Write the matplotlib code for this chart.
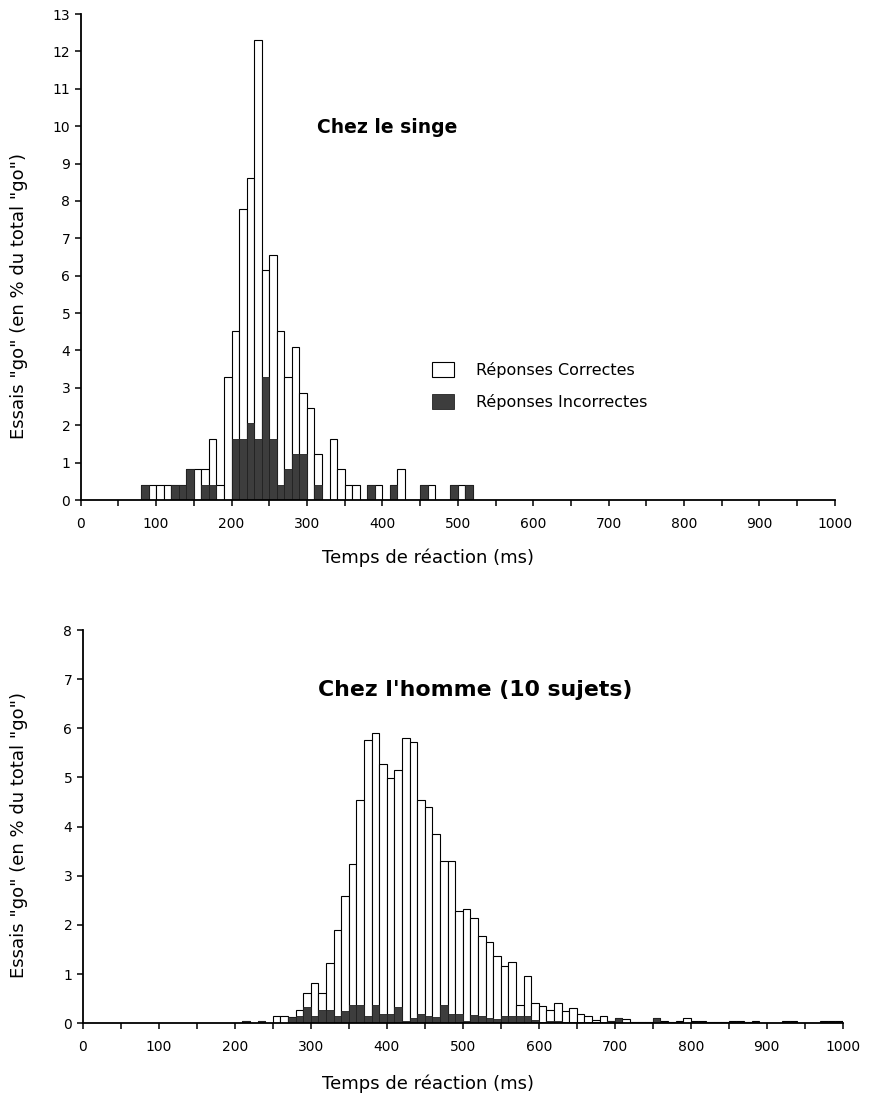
import matplotlib
matplotlib.use("Agg")
import matplotlib.pyplot as plt
from matplotlib.patches import Patch
from matplotlib.ticker import MultipleLocator

plt.rcParams['font.family'] = ['DejaVu Sans']

# --- data: monkey (bins of 10 ms, start of bin) ---
singe_bins = [80, 90, 100, 110, 120, 130, 140, 150, 160, 170, 180, 190,
              200, 210, 220, 230, 240, 250, 260, 270, 280, 290, 300, 310,
              320, 330, 340, 350, 360, 370, 380, 390, 400, 410, 420, 430,
              440, 450, 460, 470, 480, 490, 500, 510]
singe_total = [0.41, 0.41, 0.41, 0.41, 0.41, 0.41, 0.82, 0.82, 0.82, 1.64, 0.41, 3.28,
               4.51, 7.79, 8.61, 12.30, 6.15, 6.56, 4.51, 3.28, 4.10, 2.87, 2.46, 1.23,
               0, 1.64, 0.82, 0.41, 0.41, 0, 0.41, 0.41, 0, 0.41, 0.82, 0,
               0, 0.41, 0.41, 0, 0, 0.41, 0.41, 0.41]
singe_incorrect = [0.41, 0, 0, 0, 0.41, 0.41, 0.82, 0, 0.41, 0.41, 0, 0,
                   1.64, 1.64, 2.05, 1.64, 3.28, 1.64, 0.41, 0.82, 1.23, 1.23, 0, 0.41,
                   0, 0, 0, 0, 0, 0, 0.41, 0, 0, 0.41, 0, 0,
                   0, 0.41, 0, 0, 0, 0.41, 0, 0.41]

# --- data: human, 10 subjects ---
homme_bins = [210, 230, 250, 260, 270, 280, 290, 300, 310, 320, 330, 340,
              350, 360, 370, 380, 390, 400, 410, 420, 430, 440, 450, 460,
              470, 480, 490, 500, 510, 520, 530, 540, 550, 560, 570, 580,
              590, 600, 610, 620, 630, 640, 650, 660, 670, 680, 690, 700,
              710, 720, 730, 740, 750, 760, 770, 780, 790, 800, 810, 820,
              830, 840, 850, 860, 870, 880, 890, 900, 910, 920, 930, 940,
              950, 960, 970, 980, 990]
homme_total = [0.04, 0.04, 0.15, 0.15, 0.13, 0.27, 0.62, 0.81, 0.62, 1.22, 1.90, 2.59,
               3.25, 4.54, 5.76, 5.91, 5.27, 4.98, 5.15, 5.81, 5.72, 4.54, 4.39, 3.85,
               3.30, 3.30, 2.28, 2.32, 2.15, 1.78, 1.65, 1.36, 1.17, 1.24, 0.37, 0.96,
               0.42, 0.36, 0.27, 0.42, 0.26, 0.32, 0.19, 0.14, 0.06, 0.14, 0.04, 0.10,
               0.08, 0.03, 0.03, 0.03, 0.10, 0.05, 0.02, 0.05, 0.10, 0.04, 0.04, 0.03,
               0.02, 0.02, 0.05, 0.05, 0.02, 0.05, 0.01, 0.01, 0.01, 0.05, 0.05, 0.01,
               0.01, 0.01, 0.05, 0.05, 0.04]
homme_incorrect = [0.04, 0.04, 0, 0, 0.13, 0.15, 0.33, 0.15, 0.27, 0.27, 0.15, 0.24,
                   0.37, 0.37, 0.15, 0.37, 0.19, 0.19, 0.33, 0.05, 0.10, 0.19, 0.15, 0.13,
                   0.37, 0.19, 0.19, 0.05, 0.17, 0.14, 0.10, 0.08, 0.15, 0.15, 0.15, 0.14,
                   0.07, 0.03, 0.04, 0.04, 0.03, 0.03, 0.02, 0.02, 0.03, 0.02, 0.04, 0.10,
                   0, 0.03, 0.02, 0.02, 0.10, 0.03, 0.02, 0.02, 0, 0.02, 0.02, 0.02,
                   0.02, 0.02, 0.02, 0.02, 0.02, 0.02, 0.01, 0.01, 0.01, 0.02, 0.02, 0.01,
                   0.01, 0.01, 0.02, 0.02, 0.02]

dark = '#3d3d3d'
xlab = 'Temps de réaction (ms)'
ylab = 'Essais "go" (en % du total "go")'


def draw_hist(ax, bins, total, incorrect, ymax):
    ax.bar(bins, total, width=10, align='edge', color='white',
           edgecolor='black', linewidth=0.8, zorder=2)
    xs = [b for b, v in zip(bins, incorrect) if v > 0]
    hs = [v for v in incorrect if v > 0]
    ax.bar(xs, hs, width=10, align='edge', color=dark,
           edgecolor='#222222', linewidth=0.6, zorder=3)
    ax.set_xlim(0, 1000)
    ax.set_ylim(0, ymax)
    ax.xaxis.set_major_locator(MultipleLocator(100))
    ax.xaxis.set_minor_locator(MultipleLocator(50))
    ax.yaxis.set_major_locator(MultipleLocator(1))
    for s in ['top', 'right']:
        ax.spines[s].set_visible(False)
    for s in ['left', 'bottom']:
        ax.spines[s].set_linewidth(1.3)
        ax.spines[s].set_zorder(4)
    ax.tick_params(which='both', direction='out', length=4, width=1.1, labelsize=10)
    ax.tick_params(axis='x', pad=8)
    ax.set_xlabel(xlab, fontsize=13)
    ax.set_ylabel(ylab, fontsize=13)


fig = plt.figure(figsize=(8.77, 10.97), dpi=100)

ax1 = fig.add_axes([0.092, 0.5442, 0.860, 0.443])
draw_hist(ax1, singe_bins, singe_total, singe_incorrect, 13)
ax1.xaxis.set_label_coords(0.46, -0.10)
ax1.yaxis.set_label_coords(-0.070, 0.42)
ax1.text(0.313, 0.767, 'Chez le singe', transform=ax1.transAxes,
         fontsize=13.5, fontweight='bold', va='center')
handles = [Patch(facecolor='white', edgecolor='black', linewidth=0.8),
           Patch(facecolor=dark, edgecolor='#222222', linewidth=0.6)]
ax1.legend(handles, ['Réponses Correctes', 'Réponses Incorrectes'],
           loc='upper left', bbox_to_anchor=(0.476, 0.683),
           bbox_transform=fig.transFigure, frameon=False, fontsize=11.5,
           handlelength=1.37, handleheight=1.06, labelspacing=1.0,
           handletextpad=1.37)

ax2 = fig.add_axes([0.0943, 0.0672, 0.8666, 0.3585])
draw_hist(ax2, homme_bins, homme_total, homme_incorrect, 8)
ax2.xaxis.set_label_coords(0.454, -0.129)
ax2.yaxis.set_label_coords(-0.072, 0.48)
ax2.text(0.31, 0.847, "Chez l'homme (10 sujets)", transform=ax2.transAxes,
         fontsize=15.8, fontweight='bold', va='center')

fig.savefig('out.png', dpi=100)
